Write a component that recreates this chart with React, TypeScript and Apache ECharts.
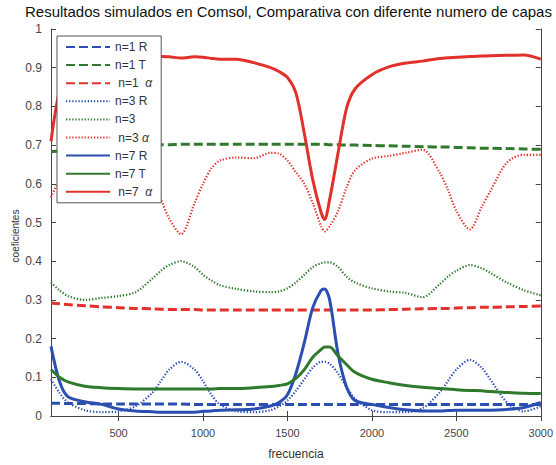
import React, { useEffect, useRef } from "react";
import * as echarts from "echarts";

const FREQ = [100, 150, 200, 300, 400, 500, 600, 700, 750, 800, 870, 950, 1000, 1050, 1100, 1200, 1300, 1400, 1450, 1500, 1550, 1600, 1650, 1700, 1720, 1750, 1800, 1850, 1900, 2000, 2100, 2200, 2300, 2400, 2450, 2500, 2580, 2650, 2700, 2800, 2900, 3000];

const N1_R = [0.033, 0.033, 0.032, 0.032, 0.031, 0.031, 0.031, 0.031, 0.031, 0.031, 0.031, 0.030, 0.030, 0.030, 0.030, 0.030, 0.030, 0.030, 0.030, 0.030, 0.030, 0.030, 0.030, 0.030, 0.030, 0.030, 0.030, 0.030, 0.030, 0.030, 0.030, 0.030, 0.030, 0.030, 0.030, 0.030, 0.030, 0.030, 0.030, 0.030, 0.030, 0.030];
const N1_T = [0.683, 0.685, 0.688, 0.692, 0.695, 0.697, 0.699, 0.700, 0.701, 0.701, 0.702, 0.702, 0.702, 0.702, 0.702, 0.702, 0.702, 0.702, 0.702, 0.702, 0.702, 0.702, 0.702, 0.702, 0.702, 0.701, 0.701, 0.700, 0.700, 0.699, 0.698, 0.697, 0.696, 0.695, 0.695, 0.694, 0.693, 0.692, 0.692, 0.691, 0.690, 0.689];
const N1_A = [0.292, 0.290, 0.288, 0.285, 0.282, 0.280, 0.278, 0.277, 0.276, 0.275, 0.275, 0.275, 0.274, 0.274, 0.274, 0.274, 0.274, 0.274, 0.274, 0.274, 0.274, 0.274, 0.274, 0.274, 0.274, 0.274, 0.274, 0.274, 0.274, 0.274, 0.275, 0.276, 0.277, 0.278, 0.278, 0.279, 0.280, 0.281, 0.281, 0.282, 0.283, 0.284];
const N3_R = [0.095, 0.06, 0.035, 0.015, 0.01, 0.012, 0.025, 0.06, 0.09, 0.12, 0.14, 0.12, 0.09, 0.055, 0.03, 0.012, 0.01, 0.015, 0.025, 0.04, 0.065, 0.095, 0.125, 0.14, 0.14, 0.135, 0.11, 0.075, 0.045, 0.015, 0.01, 0.01, 0.02, 0.06, 0.09, 0.12, 0.145, 0.125, 0.095, 0.035, 0.012, 0.025];
const N3_T = [0.345, 0.325, 0.31, 0.30, 0.305, 0.31, 0.32, 0.355, 0.375, 0.39, 0.40, 0.385, 0.365, 0.35, 0.338, 0.328, 0.322, 0.32, 0.322, 0.33, 0.345, 0.365, 0.385, 0.395, 0.397, 0.397, 0.385, 0.36, 0.345, 0.33, 0.322, 0.318, 0.307, 0.34, 0.36, 0.375, 0.39, 0.382, 0.37, 0.345, 0.325, 0.312];
const N3_A = [0.565, 0.61, 0.64, 0.67, 0.68, 0.678, 0.66, 0.6, 0.56, 0.51, 0.47, 0.55, 0.6, 0.64, 0.66, 0.668, 0.666, 0.68, 0.678, 0.66, 0.63, 0.6, 0.55, 0.49, 0.477, 0.49, 0.53, 0.59, 0.635, 0.665, 0.672, 0.68, 0.688, 0.63, 0.585, 0.53, 0.482, 0.54, 0.58, 0.655, 0.675, 0.675];
const N7_R = [0.18, 0.09, 0.05, 0.037, 0.03, 0.018, 0.013, 0.011, 0.01, 0.01, 0.01, 0.01, 0.012, 0.013, 0.015, 0.016, 0.018, 0.026, 0.035, 0.055, 0.11, 0.19, 0.28, 0.325, 0.328, 0.3, 0.16, 0.075, 0.04, 0.03, 0.022, 0.016, 0.013, 0.013, 0.014, 0.015, 0.015, 0.015, 0.015, 0.017, 0.022, 0.035];
const N7_T = [0.12, 0.1, 0.088, 0.077, 0.073, 0.071, 0.07, 0.07, 0.07, 0.07, 0.07, 0.07, 0.07, 0.07, 0.071, 0.071, 0.073, 0.076, 0.079, 0.083, 0.097, 0.12, 0.152, 0.172, 0.178, 0.178, 0.155, 0.133, 0.113, 0.095, 0.086, 0.079, 0.074, 0.071, 0.07, 0.068, 0.066, 0.065, 0.063, 0.061, 0.059, 0.058];
const N7_A = [0.71, 0.84, 0.89, 0.915, 0.922, 0.926, 0.928, 0.929, 0.929, 0.928, 0.925, 0.928, 0.927, 0.924, 0.922, 0.922, 0.913, 0.9, 0.89, 0.875, 0.835, 0.73, 0.61, 0.525, 0.508, 0.56, 0.68, 0.795, 0.845, 0.882, 0.902, 0.912, 0.917, 0.924, 0.926, 0.927, 0.929, 0.93, 0.931, 0.932, 0.933, 0.922];

const X_TICKS = [500, 1000, 1500, 2000, 2500, 3000];

const NAMES = ["n=1 R", "n=1 T", " n=1  α", "n=3 R", "n=3", " n=3 α", "n=7 R", "n=7 T", " n=7  α"];

const BLUE = "#2b4eb1";
const GREEN = "#2f7a2c";
const RED = "#e2302b";
const FONT = "'Liberation Sans', Arial, sans-serif";

const zip = (ys: number[]) => FREQ.map((f, i) => [f, ys[i]]);

export default function App() {
  const ref = useRef<HTMLDivElement>(null);
  useEffect(() => {
    if (!ref.current) return;
    const chart = echarts.init(ref.current, undefined, { renderer: "svg" });
    const mk = (name: string, data: number[], color: string, kind: string) => ({
      name,
      type: "line",
      data: zip(data),
      symbol: "none",
      smooth: 0.3,
      lineStyle: {
        color,
        width: kind === "dot" ? 2.2 : 3,
        type: kind === "solid" ? "solid" : kind === "dash" ? [9, 4] : [1.3, 1.8],
      },
      itemStyle: { color },
      z: kind === "solid" ? 3 : 2,
    });
    const tickStyle = { show: true, inside: true, length: 5, lineStyle: { color: "#444" } };
    chart.setOption({
      animation: false,
      backgroundColor: "#fff",
      textStyle: { fontFamily: FONT },
      title: {
        text: "Resultados simulados en Comsol, Comparativa con diferente numero de capas",
        left: 25,
        top: 3,
        padding: 0,
        textStyle: { fontSize: 15, lineHeight: 17, fontWeight: "normal", color: "#111", fontFamily: FONT },
      },
      grid: { left: 51, right: 11, top: 29, bottom: 43 },
      legend: {
        data: NAMES,
        orient: "vertical",
        left: 57,
        top: 36,
        itemWidth: 44,
        itemHeight: 14,
        itemGap: 6.1,
        padding: [5, 9, 5, 8],
        backgroundColor: "#fff",
        borderColor: "#555",
        borderWidth: 1,
        borderRadius: 0,
        itemStyle: { opacity: 0 },
        formatter: (name: string) => {
          if (name.indexOf("α") >= 0) {
            const p = name.replace("α", "");
            return "{p|" + p + "}{i|α}";
          }
          return name;
        },
        textStyle: {
          fontSize: 12,
          color: "#333",
          fontFamily: FONT,
          rich: {
            p: { fontSize: 12, color: "#333", fontFamily: FONT },
            i: { fontSize: 12, color: "#333", fontStyle: "italic", fontFamily: FONT },
          },
        },
      },
      xAxis: [
        {
          type: "value",
          min: 100,
          max: 3000,
          name: "frecuencia",
          nameLocation: "middle",
          nameGap: 32,
          nameTextStyle: { fontSize: 12, color: "#333", fontFamily: FONT },
          axisLine: { show: true, lineStyle: { color: "#444" } },
          axisTick: { ...tickStyle, customValues: X_TICKS },
          axisLabel: {
            customValues: X_TICKS,
            formatter: (v: number) => String(v),
            fontSize: 11,
            color: "#444",
            margin: 11,
            fontFamily: FONT,
          },
          splitLine: { show: false },
        },
        {
          type: "value",
          position: "top",
          min: 100,
          max: 3000,
          axisLine: { show: true, lineStyle: { color: "#444" } },
          axisTick: { ...tickStyle, customValues: X_TICKS },
          axisLabel: { show: false },
          splitLine: { show: false },
        },
      ],
      yAxis: [
        {
          type: "value",
          min: 0,
          max: 1,
          interval: 0.1,
          axisLine: { show: true, lineStyle: { color: "#444" } },
          axisTick: tickStyle,
          axisLabel: { fontSize: 12, color: "#444", margin: 9, fontFamily: FONT },
          splitLine: { show: false },
        },
        {
          type: "value",
          position: "right",
          min: 0,
          max: 1,
          interval: 0.1,
          axisLine: { show: true, lineStyle: { color: "#444" } },
          axisTick: tickStyle,
          axisLabel: { show: false },
          splitLine: { show: false },
        },
      ],
      graphic: [
        {
          type: "text",
          x: 15,
          y: 236,
          rotation: Math.PI / 2,
          style: {
            text: "coeficientes",
            fontSize: 10,
            fill: "#333",
            fontFamily: FONT,
            align: "center",
            verticalAlign: "middle",
          },
        },
      ],
      series: [
        mk(NAMES[0], N1_R, BLUE, "dash"),
        mk(NAMES[1], N1_T, GREEN, "dash"),
        mk(NAMES[2], N1_A, RED, "dash"),
        mk(NAMES[3], N3_R, BLUE, "dot"),
        mk(NAMES[4], N3_T, GREEN, "dot"),
        mk(NAMES[5], N3_A, RED, "dot"),
        mk(NAMES[6], N7_R, BLUE, "solid"),
        mk(NAMES[7], N7_T, GREEN, "solid"),
        mk(NAMES[8], N7_A, RED, "solid"),
      ],
    });
    return () => chart.dispose();
  }, []);
  return (
    <div
      ref={ref}
      style={{ position: "fixed", left: 0, top: 0, width: 556, height: 465, background: "#fff" }}
    />
  );
}
